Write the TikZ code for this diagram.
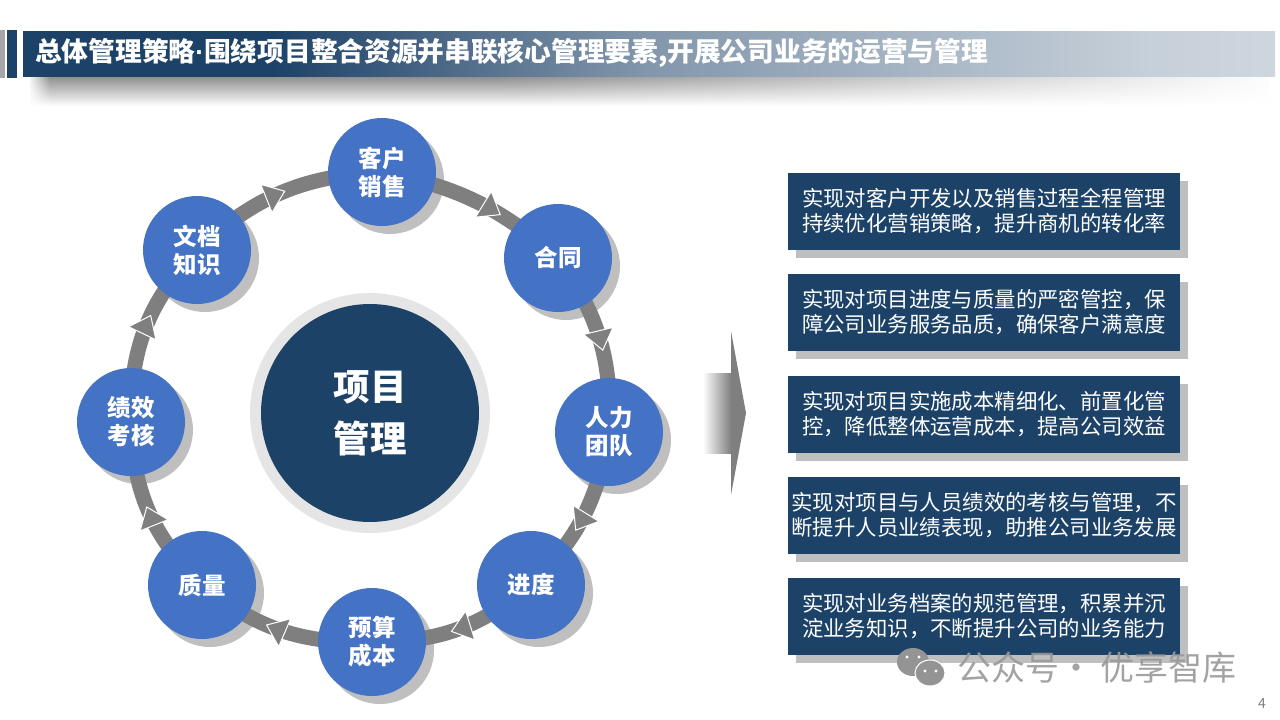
\documentclass[tikz,border=0pt]{standalone}
\usepackage{fontspec}
\setmainfont{Noto Sans CJK SC}
\newfontfamily\dotfont{Liberation Sans}
\usetikzlibrary{arrows.meta, backgrounds, calc, decorations.markings, fadings}

\definecolor{navyband}{HTML}{1D4268}
\definecolor{bluedot}{HTML}{4472C4}
\definecolor{shadowgray}{HTML}{BFBFBF}
\definecolor{ringgray}{HTML}{7F7F7F}

\pgfdeclarehorizontalshading{bandfade}{100bp}{
  color(0bp)=(navyband); color(35bp)=(navyband); color(50bp)=(navyband!55!white);
  color(70bp)=(navyband!25!white); color(87bp)=(navyband!14!white); color(98bp)=(white); color(100bp)=(white)}

\tikzset{
  ringtip/.tip={Triangle[length=21pt, width=32pt, line width=1pt, fill=ringgray, color=white]},
  dot/.style={circle, fill=bluedot, minimum size=108pt, inner sep=0pt, align=center, text=white,
    font=\fontsize{23.5}{28}\selectfont\bfseries},
  infobox/.style={rectangle, fill=navyband, minimum width=392pt, minimum height=77pt, inner sep=0pt,
    align=center, text=white, font=\fontsize{21.4}{25}\selectfont, execute at begin node={\rule{0pt}{23pt}}},
  ringarc/.style={draw=ringgray, line width=15pt, postaction={decorate},
    decoration={markings, mark=at position #1 with {\arrow{ringtip}}}}
}

\begin{document}
\begin{tikzpicture}[x=1pt, y=-1pt]
    \useasboundingbox (0,0) rectangle (1280,720);

    % title bar
    \shade[top color=black!45, bottom color=white] (30,76) rectangle (1270,106);
    \fill[white, path fading=west] (500,70) rectangle (1280,110);
    \fill[white, path fading=east] (28,76) rectangle (50,107);
    \shade[shading=bandfade] (23,31) rectangle (1275,76);
    \fill[gray!70] (0,30) rectangle (5,78);
    \fill[navyband] (7,30) rectangle (17,78);
    \node[anchor=west, text=white, inner sep=0pt, font=\fontsize{26.7}{30}\selectfont\bfseries] (title) at (35,53)
        {总体管理策略{\dotfont ·}围绕项目整合资源并串联核心管理要素,开展公司业务的运营与管理};

    % centre
    \fill[black!10] (370,413) circle (120);
    \node[circle, fill=navyband, minimum size=218pt, inner sep=0pt, align=center, text=white,
        font=\fontsize{36.5}{52}\selectfont\bfseries, execute at begin node={\rule{0pt}{37pt}}] (xmgl) at (370,413) {项目\\管理};

    % ring of topics
    \node[dot] (khxs) at (382,172) {客户\\销售};
    \node[dot] (ht) at (558,258) {合同};
    \node[dot] (rltd) at (609,432) {人力\\团队};
    \node[dot] (jd) at (531,585) {进度};
    \node[dot] (yscb) at (372,642) {预算\\成本};
    \node[dot] (zl) at (202,585) {质量};
    \node[dot] (jxkh) at (131,422) {绩效\\考核};
    \node[dot] (wdzs) at (197,250) {文档\\知识};

    \begin{scope}[on background layer]
        \foreach \n in {khxs,ht,rltd,jd,yscb,zl,jxkh,wdzs}
            \fill[shadowgray] ($(\n)+(8,8)$) circle (54);
        \draw[ringarc=.64] (khxs.center) to[bend left=15] (ht.center);
        \draw[ringarc=.56] (ht.center) to[bend left=19] (rltd.center);
        \draw[ringarc=.6] (rltd.center) to[bend left=18] (jd.center);
        \draw[ringarc=.54] (jd.center) to[bend left=20] (yscb.center);
        \draw[ringarc=.59] (yscb.center) to[bend left=20] (zl.center);
        \draw[ringarc=.53] (zl.center) to[bend left=22] (jxkh.center);
        \draw[ringarc=.58] (jxkh.center) to[bend left=22] (wdzs.center);
        \draw[ringarc=.52] (wdzs.center) to[bend left=20] (khxs.center);
    \end{scope}

    % big arrow
    \shade[left color=white, right color=ringgray] (703,373) rectangle (731,453);
    \fill[ringgray] (731,331) -- (746,413) -- (731,495) -- cycle;

    % text boxes
    \foreach \y in {173,274,376,477,578}
        \fill[shadowgray] (796,\y+8) rectangle (1188,\y+85);
    \node[infobox] (box1) at (984,211.5) {实现对客户开发以及销售过程全程管理\\持续优化营销策略，提升商机的转化率};
    \node[infobox] (box2) at (984,312.5) {实现对项目进度与质量的严密管控，保\\障公司业务服务品质，确保客户满意度};
    \node[infobox] (box3) at (984,414.5) {实现对项目实施成本精细化、前置化管\\控，降低整体运营成本，提高公司效益};
    \node[infobox] (box4) at (984,515.5) {实现对项目与人员绩效的考核与管理，不\\断提升人员业绩表现，助推公司业务发展};
    \node[infobox] (box5) at (984,616.5) {实现对业务档案的规范管理，积累并沉\\淀业务知识，不断提升公司的业务能力};

    % watermark and page number
    \fill[black!42] (913,662) ellipse (16 and 14);
    \fill[black!42, draw=white, line width=1pt] (930,673) ellipse (15 and 13);
    \foreach \x/\y in {907/657,919/657,925/671,936/671}
        \fill[white] (\x,\y) circle (1.7);
    \node[anchor=west, inner sep=0pt, text=black!40, opacity=.9, font=\fontsize{34}{36}\selectfont] (mark) at (957,668) {公众号·\hspace{7pt}优享智库};
    \node[inner sep=0pt, text=gray, font=\rmfamily\fontsize{14}{16}\selectfont] (page) at (1262,704) {4};
\end{tikzpicture}
\end{document}
